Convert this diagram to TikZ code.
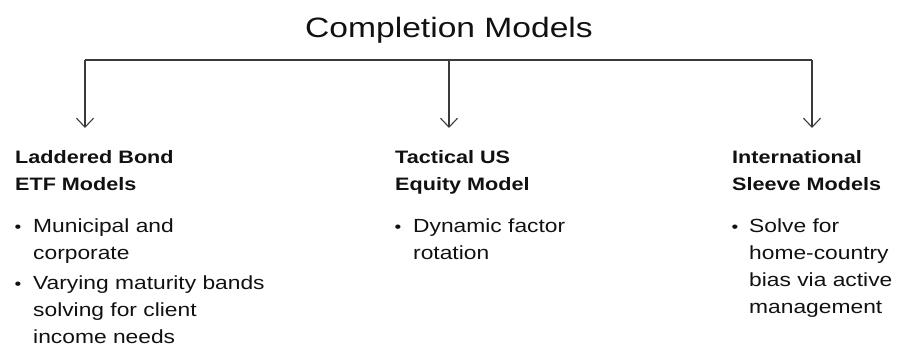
\documentclass[tikz,border=0pt]{standalone}
\usepackage{fontspec}
\setmainfont[FakeStretch=1.2]{Liberation Sans}
\usetikzlibrary{arrows.meta}
\definecolor{ink}{HTML}{111111}
\definecolor{wire}{HTML}{3A3A3A}
\begin{document}
\begin{tikzpicture}[x=1pt,y=-1pt,
  titletext/.style={anchor=base,inner sep=0pt,text=ink,font=\fontsize{28}{32}\selectfont},
  headtext/.style={anchor=base west,inner sep=0pt,text=ink,font=\fontsize{18}{22}\selectfont\bfseries},
  bodytext/.style={anchor=base west,inner sep=0pt,text=ink,font=\fontsize{19}{22}\selectfont},
  dottext/.style={anchor=base,inner sep=0pt,text=ink,font=\fontsize{16}{22}\selectfont},
  wireline/.style={draw=wire,line width=1.3pt},
  arrowline/.style={wireline,-{Straight Barb[length=9pt,width=17pt,line width=1.1pt]}}]
\useasboundingbox (0,0) rectangle (907,347);
% title
\node[titletext] (title) at (449,38) {Completion Models};
% junction coordinates
\coordinate (jl) at (85,60);
\coordinate (jm) at (449,60);
\coordinate (jr) at (812,60);
\coordinate (el) at (85,128);
\coordinate (em) at (449,128);
\coordinate (er) at (812,128);
\draw[wireline] (jl) -- (jr);
\draw[arrowline] (jl) -- (el);
\draw[arrowline] (jm) -- (em);
\draw[arrowline] (jr) -- (er);
% column 1
\node[headtext] (h1a) at (15,164) {Laddered Bond};
\node[headtext] (h1b) at (15,190.5) {ETF Models};
\node[dottext] (d1a) at (18,232.7) {•};
\node[bodytext] (b1a) at (33,232.7) {Municipal and};
\node[bodytext] (b1b) at (33,259.3) {corporate};
\node[dottext] (d1b) at (18,290) {•};
\node[bodytext] (b1c) at (33,290) {Varying maturity bands};
\node[bodytext] (b1d) at (33,316.7) {solving for client};
\node[bodytext] (b1e) at (33,343.3) {income needs};
% column 2
\node[headtext] (h2a) at (395,164) {Tactical US};
\node[headtext] (h2b) at (395,190.5) {Equity Model};
\node[dottext] (d2a) at (398,232.7) {•};
\node[bodytext] (b2a) at (413,232.7) {Dynamic factor};
\node[bodytext] (b2b) at (413,259.3) {rotation};
% column 3
\node[headtext] (h3a) at (732,164) {International};
\node[headtext] (h3b) at (732,190.5) {Sleeve Models};
\node[dottext] (d3a) at (735,232.7) {•};
\node[bodytext] (b3a) at (749,232.7) {Solve for};
\node[bodytext] (b3b) at (749,259.3) {home-country};
\node[bodytext] (b3c) at (749,286.7) {bias via active};
\node[bodytext] (b3d) at (749,313.3) {management};
\end{tikzpicture}
\end{document}
